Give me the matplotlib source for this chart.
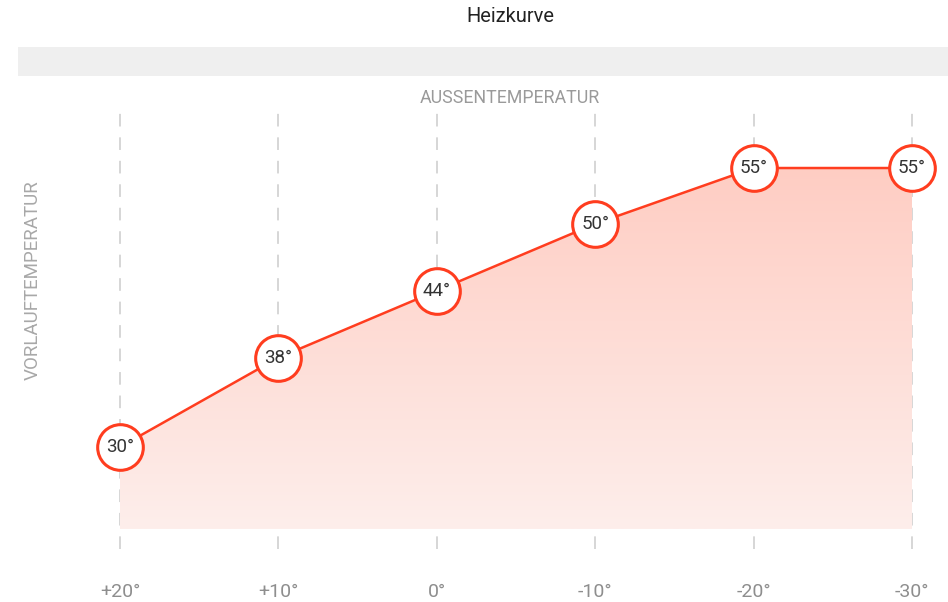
import numpy as np
import matplotlib.pyplot as plt
from matplotlib.colors import LinearSegmentedColormap

plt.rcParams["font.family"] = ["Roboto", "DejaVu Sans"]

# data
outside_labels = ["+20°", "+10°", "0°", "-10°", "-20°", "-30°"]
flow_temps = [30, 38, 44, 50, 55, 55]
title = "Heizkurve"
x_title = "AUSSENTEMPERATUR"
y_title = "VORLAUFTEMPERATUR"

LINE_COLOR = "#ff3d1f"
GRID_COLOR = "#d3d3d3"
TEXT_GRAY = "#8e8e8e"
FILL_BASE = 22.65

W, H = 948, 602
fig = plt.figure(figsize=(W / 100, H / 100), dpi=100)

# gray band under the title
band = fig.add_axes([18 / W, 1 - 76 / H, (W - 18) / W, 29 / H])
band.set_facecolor("#efefef")
band.set_xticks([])
band.set_yticks([])
for s in band.spines.values():
    s.set_visible(False)

fig.text(510 / W, 1 - 17 / H, title, ha="center", va="center", fontsize=14.5, color="#222222")
fig.text(510 / W, 1 - 98 / H, x_title, ha="center", va="center", fontsize=12.8, color="#9a9a9a")
fig.text(33 / W, 1 - 280 / H, y_title, ha="center", va="center", rotation=90,
         fontsize=13.5, color="#a8a8a8")

# main axes: px x 18..948, y 112..549
ax = fig.add_axes([18 / W, 1 - 549 / H, (W - 18) / W, (549 - 112) / H])
step = 158.4
ax.axis("off")

x = np.arange(len(flow_temps))
for xi in x:
    ax.axvline(xi, color=GRID_COLOR, lw=1.3, dashes=(7, 6), zorder=1)

# gradient fill under the curve
poly = ax.fill_between(x, flow_temps, FILL_BASE, color="none", lw=0)
cmap = LinearSegmentedColormap.from_list("heat", ["#fdeeeb", "#ffcdc3"])
grad = np.linspace(0, 1, 256).reshape(-1, 1)
img = ax.imshow(grad, cmap=cmap, aspect="auto", origin="lower",
                extent=[x[0], x[-1], FILL_BASE, max(flow_temps)], zorder=2)
img.set_clip_path(poly.get_paths()[0], transform=ax.transData)
ax.set_xlim(-102 / step, 5 + 36 / step)
ax.set_ylim(20.86, 60.02)

ax.plot(x, flow_temps, color=LINE_COLOR, lw=1.8, zorder=3)
ax.scatter(x, flow_temps, s=1080, facecolor="white", edgecolor=LINE_COLOR,
           linewidth=2.2, zorder=4)
for xi, v in zip(x, flow_temps):
    ax.text(xi, v, f"{v}°", ha="center", va="center", fontsize=13.5,
            color="#333333", zorder=5)

# bottom tick labels
for xi, lab in zip(x, outside_labels):
    px = 120 + xi * step
    fig.text(px / W, 1 - 592 / H, lab, ha="center", va="center",
             fontsize=14, color=TEXT_GRAY)

fig.savefig("out.png", dpi=100)
